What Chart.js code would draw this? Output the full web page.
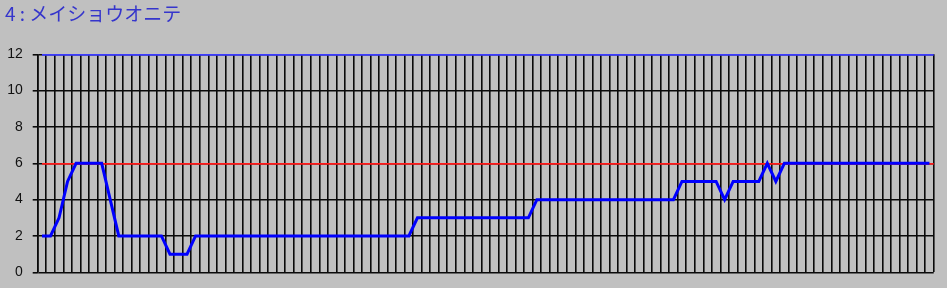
<!DOCTYPE html>
<html>
<head>
<meta charset="utf-8">
<script src="https://cdn.jsdelivr.net/npm/chart.js@4/dist/chart.umd.min.js"></script>
<style>
  html, body { margin: 0; padding: 0; background: #c0c0c0; }
  #wrap { width: 947px; height: 288px; }
  canvas { display: block; background: #c0c0c0; }
</style>
</head>
<body>
<div id="wrap"><canvas id="c" width="947" height="288"></canvas></div>
<script>
const chartTitle = '4 : メイショウオニテ';
const seriesValues = [
  2, 2, 3, 5, 6, 6, 6, 6, 4, 2,
  2, 2, 2, 2, 2, 1, 1, 1, 2, 2,
  2, 2, 2, 2, 2, 2, 2, 2, 2, 2,
  2, 2, 2, 2, 2, 2, 2, 2, 2, 2,
  2, 2, 2, 2, 3, 3, 3, 3, 3, 3,
  3, 3, 3, 3, 3, 3, 3, 3, 4, 4,
  4, 4, 4, 4, 4, 4, 4, 4, 4, 4,
  4, 4, 4, 4, 4, 5, 5, 5, 5, 5,
  4, 5, 5, 5, 5, 6, 5, 6, 6, 6,
  6, 6, 6, 6, 6, 6, 6, 6, 6, 6,
  6, 6, 6, 6, 6
];
const categories = seriesValues.map((_, i) => String(i + 1));
const yTickLabels = [0, 2, 4, 6, 8, 10, 12];
const referenceLevels = [6, 12];
const referenceColors = ['#ff1a1a', '#3c3cff'];
const GRID_W = 1.6;

const refLinePlugin = {
  id: 'refLines',
  beforeDatasetsDraw(chart) {
    const { ctx, chartArea, scales } = chart;
    const x0 = scales.x.getPixelForValue(0);
    ctx.save();
    referenceLevels.forEach((v, i) => {
      const raw = scales.y.getPixelForValue(v);
      const y = Math.round(raw - GRID_W / 2) + GRID_W / 2;
      ctx.strokeStyle = referenceColors[i];
      ctx.lineWidth = GRID_W + 0.2;
      ctx.beginPath();
      ctx.moveTo(x0, y);
      ctx.lineTo(chartArea.right, y);
      ctx.stroke();
    });
    ctx.restore();
  }
};

new Chart(document.getElementById('c'), {
  type: 'line',
  data: {
    labels: categories,
    datasets: [{
      data: seriesValues,
      borderColor: '#0000ff',
      borderWidth: 3,
      pointRadius: 0,
      tension: 0,
      fill: false
    }]
  },
  options: {
    responsive: false,
    animation: false,
    events: [],
    layout: { padding: { left: 5, right: 13.3, top: 0, bottom: 15.7 } },
    plugins: {
      legend: { display: false },
      tooltip: { enabled: false },
      title: {
        display: true,
        text: chartTitle,
        align: 'start',
        color: '#3535cc',
        font: { family: '"Noto Sans CJK JP", sans-serif', size: 19, weight: 'normal', lineHeight: 1.2 },
        padding: { top: 2.5, bottom: 29 }
      }
    },
    scales: {
      x: {
        type: 'category',
        offset: true,
        afterFit(scale) { scale.height = 0; scale.paddingLeft = 0; scale.paddingRight = 0; },
        grid: { display: true, offset: true, color: '#0a0a0a', lineWidth: GRID_W, drawTicks: false },
        border: { display: false },
        ticks: { display: false }
      },
      y: {
        min: 0,
        max: 12,
        afterBuildTicks(scale) { scale.ticks = yTickLabels.map(v => ({ value: v })); },
        afterFit(scale) { scale.width = 32.7; scale.paddingTop = 0; scale.paddingBottom = 0; },
        grid: { color: '#0a0a0a', lineWidth: GRID_W, tickLength: 5, drawTicks: true },
        border: { display: true, color: '#0a0a0a', width: GRID_W },
        ticks: {
          color: '#111',
          padding: 10,
          font: { family: '"Liberation Sans", Arial, sans-serif', size: 14 }
        }
      }
    }
  },
  plugins: [refLinePlugin]
});
</script>
</body>
</html>
